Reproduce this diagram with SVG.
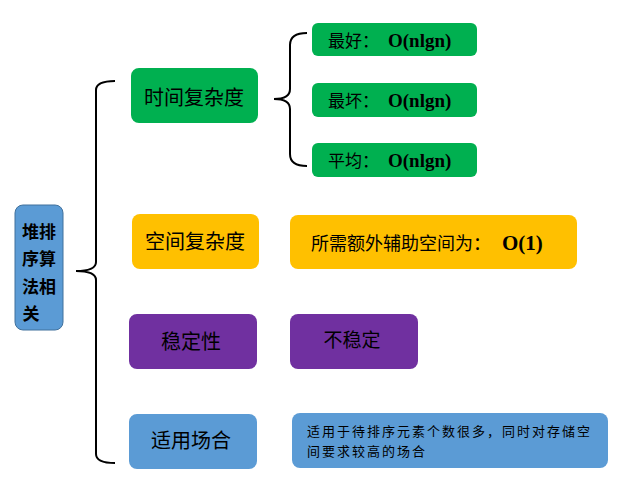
<svg xmlns="http://www.w3.org/2000/svg" width="629" height="495" viewBox="0 0 629 495">
<style>
.t{font-family:"Noto Sans CJK SC","Liberation Sans",sans-serif;fill:#000;}
.b{font-family:"Liberation Serif","Noto Sans CJK SC",serif;font-weight:bold;}
.br{fill:none;stroke:#000;stroke-width:2;}
</style>
<rect width="629" height="495" fill="#fff"/>
<g id="connectors">
<path class="br" d="M115 81 Q96 81 96 90 L96 262 Q96 271 76 271 Q96 271 96 280 L96 454 Q96 463 115 463"/>
<path class="br" d="M307 33 Q290 33 290 45 L290 89 Q290 99 274 99 Q290 99 290 109 L290 154 Q290 166 307 166"/>
</g>
<g id="root">
<rect x="15" y="205" width="48" height="125" rx="8" fill="#5B9BD5" stroke="#41719C" stroke-width="1"/>
<text class="t" font-size="17" font-weight="bold" x="39" y="238" text-anchor="middle">堆排</text>
<text class="t" font-size="17" font-weight="bold" x="39" y="265" text-anchor="middle">序算</text>
<text class="t" font-size="17" font-weight="bold" x="39" y="293" text-anchor="middle">法相</text>
<text class="t" font-size="17" font-weight="bold" x="31" y="320" text-anchor="middle">关</text>
</g>
<g id="time">
<rect x="131" y="68" width="127" height="55" rx="8" fill="#00B050"/>
<text class="t" font-size="20" x="194" y="105" text-anchor="middle">时间复杂度</text>
</g>
<g id="best">
<rect x="312" y="23" width="165" height="33" rx="6" fill="#00B050"/>
<text class="t" font-size="17" x="328" y="47">最好：<tspan class="b" x="388" font-size="19">O(nlgn)</tspan></text>
</g>
<g id="worst">
<rect x="312" y="83" width="165" height="34" rx="6" fill="#00B050"/>
<text class="t" font-size="17" x="328" y="107">最坏：<tspan class="b" x="388" font-size="19">O(nlgn)</tspan></text>
</g>
<g id="avg">
<rect x="312" y="143" width="165" height="34" rx="6" fill="#00B050"/>
<text class="t" font-size="17" x="328" y="167">平均：<tspan class="b" x="388" font-size="19">O(nlgn)</tspan></text>
</g>
<g id="space">
<rect x="132" y="214" width="127" height="55" rx="8" fill="#FFC000"/>
<text class="t" font-size="20" x="195" y="249" text-anchor="middle">空间复杂度</text>
</g>
<g id="space-val">
<rect x="290" y="215" width="287" height="54" rx="8" fill="#FFC000"/>
<text class="t" font-size="18" x="311" y="250">所需额外辅助空间为：<tspan class="b" x="502" font-size="21">O(1)</tspan></text>
</g>
<g id="stable">
<rect x="129" y="314" width="128" height="55" rx="8" fill="#7030A0"/>
<text class="t" font-size="20" x="191" y="349" text-anchor="middle">稳定性</text>
</g>
<g id="stable-val">
<rect x="290" y="314" width="128" height="55" rx="8" fill="#7030A0"/>
<text class="t" font-size="19" x="352" y="347" text-anchor="middle">不稳定</text>
</g>
<g id="usage">
<rect x="129" y="414" width="128" height="55" rx="8" fill="#5B9BD5"/>
<text class="t" font-size="20" x="191" y="448" text-anchor="middle">适用场合</text>
</g>
<g id="usage-val">
<rect x="292" y="413" width="316" height="55" rx="8" fill="#5B9BD5"/>
<text class="t" font-size="13" letter-spacing="2"><tspan x="307" y="436">适用于待排序元素个数很多，同时对存储空</tspan><tspan x="307" y="456">间要求较高的场合</tspan></text>
</g>
</svg>
